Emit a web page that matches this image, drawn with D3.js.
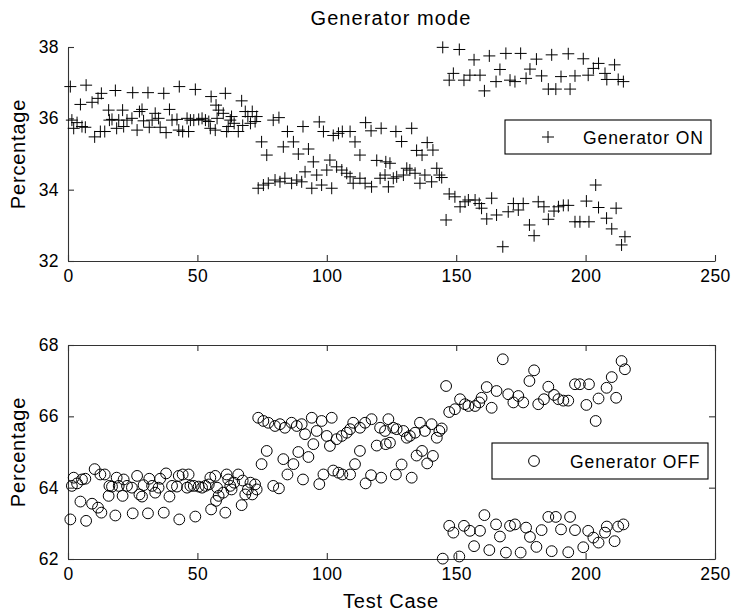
<!DOCTYPE html>
<html><head><meta charset="utf-8">
<script src="https://cdn.jsdelivr.net/npm/d3@7"></script>
<style>body{margin:0;background:#fff}svg{display:block}</style>
</head><body>
<svg id="c" width="734" height="614"></svg>
<script>
// ---------- data ----------
const testCase = [
0.9,1.5,2.2,3.5,4.8,5.4,6.7,7.0,9.3,10.3,11.6,12.5,12.9,14.2,15.7,16.0,17.0,18.3,18.8,19.6,21.1,21.5,22.8,24.7,25.0,26.7,27.6,28.6,29.2,30.9,31.4,32.5,33.7,35.0,35.6,37.0,37.9,39.2,40.2,42.1,42.8,43.0,44.3,46.0,46.6,47.3,48.6,49.2,50.5,51.8,53.1,54.4,55.0,55.3,56.9,57.2,57.6,58.2,60.0,60.8,61.3,61.9,62.7,63.2,64.2,65.8,67.1,67.5,68.5,69.5,70.5,71.2,72.3,72.9,
73.5,75.5,77.4,80.0,81.9,83.8,86.4,88.4,90.3,91.6,94.2,96.1,98.0,100.0,101.9,103.8,105.8,107.7,109.0,110.2,112.8,114.8,117.3,120.6,122.5,123.8,125.7,127.0,129.6,130.9,132.1,134.1,136.0,137.9,140.5,142.5,143.5,144.4,
74.8,76.8,79.3,81.5,83.2,84.8,87.1,89.0,90.8,92.9,94.8,97.1,98.7,101.2,102.5,104.5,106.0,109.0,110.9,112.8,115.0,117.1,119.3,121.0,122.8,124.4,126.7,128.9,132.8,134.7,136.8,138.8,141.0,
144.8,147.3,148.9,151.2,153.0,155.3,156.9,159.2,160.9,162.8,165.4,166.9,169.2,170.8,172.7,174.9,177.0,178.5,181.0,183.0,185.6,186.9,188.5,190.5,193.3,194.0,195.9,199.1,201.0,203.0,205.0,207.5,208.2,211.2,212.6,214.6,
146.1,147.3,149.5,151.5,153.4,154.7,157.3,158.9,159.8,161.8,163.7,165.6,168.0,170.1,172.1,174.0,175.9,178.3,180.1,181.7,183.9,185.6,187.8,189.5,191.4,193.3,195.9,197.8,200.3,201.3,203.9,205.0,208.1,210.1,211.8,213.9,215.2
];
const pctOn = [
36.89,35.95,35.72,35.88,36.39,35.77,35.75,36.93,36.45,35.48,36.56,35.63,36.70,35.63,36.23,35.95,35.97,36.78,35.72,35.95,36.23,35.77,35.95,36.00,36.72,35.67,36.19,36.25,35.93,36.72,35.75,35.95,36.14,36.00,35.75,36.70,35.60,36.25,35.95,35.97,35.67,36.89,35.63,36.00,35.63,35.95,35.95,36.81,35.97,36.00,35.95,35.91,35.72,36.61,35.67,36.37,36.00,36.23,36.14,36.70,35.63,35.77,35.95,36.05,35.86,35.63,36.49,35.80,36.19,36.05,35.86,36.19,35.91,36.05,
34.04,34.13,34.18,34.27,34.22,34.32,34.18,34.27,34.22,34.50,34.04,34.41,34.13,34.55,34.04,34.64,34.55,34.46,34.36,34.18,34.32,34.18,34.08,34.32,34.41,34.08,34.32,34.36,34.41,34.60,34.55,34.46,34.18,34.41,34.22,34.60,34.41,34.34,
35.34,34.97,35.95,36.02,35.20,35.63,35.34,35.00,35.77,35.14,34.78,35.90,35.63,34.83,35.52,35.58,35.63,35.63,35.34,34.97,35.88,35.65,34.82,35.72,34.78,34.74,35.63,35.35,35.72,35.10,34.97,35.32,35.11,
37.99,37.07,37.26,37.93,37.07,37.21,37.64,37.21,36.77,37.75,37.03,37.37,37.82,37.07,37.03,37.82,37.12,37.38,37.66,37.19,36.82,37.78,36.82,37.17,37.81,36.82,37.19,37.67,37.21,37.40,37.54,37.26,37.09,37.50,37.09,37.03,
33.15,33.88,33.80,33.52,33.66,33.71,33.71,33.61,33.48,33.18,33.76,33.29,32.40,33.38,33.61,33.43,33.61,33.01,32.71,33.66,33.52,33.17,33.40,33.52,33.56,33.56,33.10,33.10,33.68,33.10,34.13,33.50,33.20,32.90,33.48,32.45,32.68
];
const pctOff = [
63.11,64.05,64.28,64.12,63.61,64.23,64.25,63.07,63.55,64.52,63.44,64.37,63.30,64.37,63.77,64.05,64.03,63.22,64.28,64.05,63.77,64.23,64.05,64.00,63.28,64.33,63.81,63.75,64.07,63.28,64.25,64.05,63.86,64.00,64.25,63.30,64.40,63.75,64.05,64.03,64.33,63.11,64.37,64.00,64.37,64.05,64.05,63.19,64.03,64.00,64.05,64.09,64.28,63.39,64.33,63.63,64.00,63.77,63.86,63.30,64.37,64.23,64.05,63.95,64.14,64.37,63.51,64.20,63.81,63.95,64.14,63.81,64.09,63.95,
65.96,65.87,65.82,65.73,65.78,65.68,65.82,65.73,65.78,65.50,65.96,65.59,65.87,65.45,65.96,65.36,65.45,65.54,65.64,65.82,65.68,65.82,65.92,65.68,65.59,65.92,65.68,65.64,65.59,65.40,65.45,65.54,65.82,65.59,65.78,65.40,65.59,65.66,
64.66,65.03,64.05,63.98,64.80,64.37,64.66,65.00,64.23,64.86,65.22,64.10,64.37,65.17,64.48,64.42,64.37,64.37,64.66,65.03,64.12,64.35,65.18,64.28,65.22,65.26,64.37,64.65,64.28,64.90,65.03,64.68,64.89,
62.01,62.93,62.74,62.07,62.93,62.79,62.36,62.79,63.23,62.25,62.97,62.63,62.18,62.93,62.97,62.18,62.88,62.62,62.34,62.81,63.18,62.22,63.18,62.83,62.19,63.18,62.81,62.33,62.79,62.60,62.46,62.74,62.91,62.50,62.91,62.97,
66.85,66.12,66.20,66.48,66.34,66.29,66.29,66.39,66.52,66.82,66.24,66.71,67.60,66.62,66.39,66.57,66.39,66.99,67.29,66.34,66.48,66.83,66.60,66.48,66.44,66.44,66.90,66.90,66.32,66.90,65.87,66.50,66.80,67.10,66.52,67.55,67.32
];
const xTicks = [0, 50, 100, 150, 200, 250];
const yTicksOn = [32, 34, 36, 38];
const yTicksOff = [62, 64, 66, 68];
const titleText = "Generator mode";
const xLabel = "Test Case";
const yLabel = "Percentage";
const legendOn = "Generator ON";
const legendOff = "Generator OFF";

// ---------- drawing ----------
const FONT = "'Liberation Sans', Arial, Helvetica, sans-serif";
const AX = "#333";
const svg = d3.select("#c").style("font-family", FONT);
svg.append("rect").attr("width",734).attr("height",614).attr("fill","#fff");

const L = 68, R = 715;
const top1 = 47, bot1 = 261, top2 = 345, bot2 = 559;
const x = d3.scaleLinear().domain([0,250]).range([L,R]);
const yOn = d3.scaleLinear().domain([32,38]).range([bot1,top1]);
const yOff = d3.scaleLinear().domain([62,68]).range([bot2,top2]);
const fmt = d3.format("d");

function styleAxis(g){
  g.selectAll("path").attr("stroke",AX).attr("stroke-width",1.1);
  g.selectAll("line").attr("stroke",AX).attr("stroke-width",1.1);
  g.selectAll("text").attr("fill","#000").style("font-size","17.5px").style("letter-spacing","0.4px").style("font-family",FONT);
}

// --- top axes (left + bottom only)
svg.append("g").attr("transform",`translate(0,${bot1})`)
  .call(d3.axisBottom(x).tickValues(xTicks).tickFormat(fmt).tickSizeInner(-6).tickSizeOuter(0).tickPadding(9))
  .call(styleAxis);
svg.append("g").attr("transform",`translate(${L},0)`)
  .call(d3.axisLeft(yOn).tickValues(yTicksOn).tickFormat(fmt).tickSizeInner(-6).tickSizeOuter(0).tickPadding(9))
  .call(styleAxis);

// --- bottom axes (full box)
svg.append("g").attr("transform",`translate(0,${bot2})`)
  .call(d3.axisBottom(x).tickValues(xTicks).tickFormat(fmt).tickSizeInner(-6).tickSizeOuter(0).tickPadding(9))
  .call(styleAxis);
svg.append("g").attr("transform",`translate(${L},0)`)
  .call(d3.axisLeft(yOff).tickValues(yTicksOff).tickFormat(fmt).tickSizeInner(-6).tickSizeOuter(0).tickPadding(9))
  .call(styleAxis);
svg.append("g").attr("transform",`translate(0,${top2})`)
  .call(d3.axisTop(x).tickValues(xTicks).tickSizeInner(-6).tickSizeOuter(0).tickFormat(""))
  .call(styleAxis);
svg.append("g").attr("transform",`translate(${R},0)`)
  .call(d3.axisRight(yOff).tickValues(yTicksOff).tickSizeInner(-6).tickSizeOuter(0).tickFormat(""))
  .call(styleAxis);

// --- markers
const plus = "M-6,0H6M0,-6V6";
svg.append("g").selectAll("path").data(d3.range(testCase.length)).join("path")
  .attr("d", plus)
  .attr("transform", i => `translate(${x(testCase[i])},${yOn(pctOn[i])})`)
  .attr("stroke","#000").attr("stroke-width",1).attr("fill","none");

svg.append("g").selectAll("circle").data(d3.range(testCase.length)).join("circle")
  .attr("cx", i => x(testCase[i])).attr("cy", i => yOff(pctOff[i])).attr("r",5.4)
  .attr("stroke","#000").attr("stroke-width",1).attr("fill","none");

// --- texts
svg.append("text").attr("x",391).attr("y",25).attr("text-anchor","middle")
  .style("font-size","20px").style("letter-spacing","1.1px").text(titleText);
svg.append("text").attr("x",391).attr("y",608).attr("text-anchor","middle")
  .style("font-size","20px").style("letter-spacing","0.8px").text(xLabel);
[ (top1+bot1)/2, (top2+bot2)/2 ].forEach(cy => {
  svg.append("text").attr("transform",`translate(25,${cy}) rotate(-90)`).attr("text-anchor","middle")
    .style("font-size","20px").style("letter-spacing","0.8px").text(yLabel);
});

// --- legends
const lg1 = svg.append("g");
lg1.append("rect").attr("x",505).attr("y",120).attr("width",206).attr("height",34)
  .attr("fill","#fff").attr("stroke","#000").attr("stroke-width",1.1);
lg1.append("path").attr("d",plus).attr("transform","translate(548,137)").attr("stroke","#000").attr("fill","none");
lg1.append("text").attr("x",583).attr("y",143.5).style("font-size","17.5px").style("letter-spacing","0.9px").text(legendOn);

const lg2 = svg.append("g");
lg2.append("rect").attr("x",492).attr("y",443).attr("width",216).attr("height",36)
  .attr("fill","#fff").attr("stroke","#000").attr("stroke-width",1.1);
lg2.append("circle").attr("cx",534).attr("cy",461).attr("r",5.4).attr("stroke","#000").attr("fill","none");
lg2.append("text").attr("x",570).attr("y",467.5).style("font-size","17.5px").style("letter-spacing","0.9px").text(legendOff);
</script>
</body></html>
